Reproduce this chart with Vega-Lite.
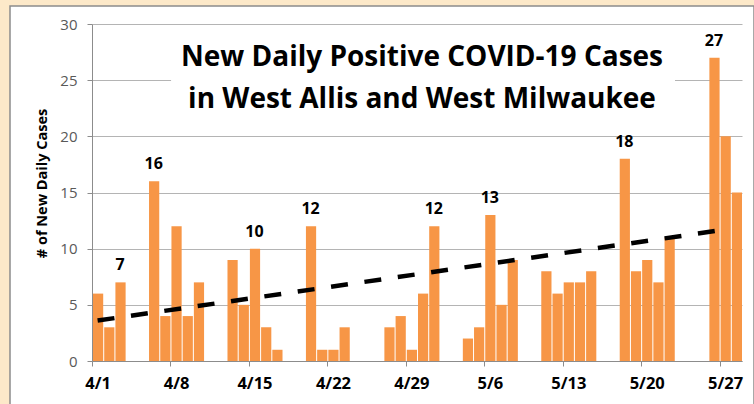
{
  "$schema": "https://vega.github.io/schema/vega-lite/v6.json",
  "autosize": {"type": "none"},
  "width": 744,
  "height": 400,
  "padding": {"left": 10, "top": 6, "right": 0, "bottom": 0},
  "background": "#FDE9C9",
  "config": {
    "view": {"fill": "white", "stroke": "#8C8C8C", "strokeWidth": 1.5},
    "font": "Open Sans"
  },
  "title": {
    "text": ["New Daily Positive COVID-19 Cases", "in West Allis and West Milwaukee"],
    "anchor": "middle",
    "frame": "group",
    "orient": "top",
    "baseline": "alphabetic",
    "offset": -130,
    "dx": 40,
    "lineHeight": 42,
    "font": "Open Sans",
    "fontSize": 28,
    "fontWeight": "bold",
    "color": "#000000"
  },
  "datasets": {
    "cases": [
      {"date": "2020-04-01", "cases": 6, "peak": false},
      {"date": "2020-04-02", "cases": 3, "peak": false},
      {"date": "2020-04-03", "cases": 7, "peak": true},
      {"date": "2020-04-06", "cases": 16, "peak": true},
      {"date": "2020-04-07", "cases": 4, "peak": false},
      {"date": "2020-04-08", "cases": 12, "peak": false},
      {"date": "2020-04-09", "cases": 4, "peak": false},
      {"date": "2020-04-10", "cases": 7, "peak": false},
      {"date": "2020-04-13", "cases": 9, "peak": false},
      {"date": "2020-04-14", "cases": 5, "peak": false},
      {"date": "2020-04-15", "cases": 10, "peak": true},
      {"date": "2020-04-16", "cases": 3, "peak": false},
      {"date": "2020-04-17", "cases": 1, "peak": false},
      {"date": "2020-04-20", "cases": 12, "peak": true},
      {"date": "2020-04-21", "cases": 1, "peak": false},
      {"date": "2020-04-22", "cases": 1, "peak": false},
      {"date": "2020-04-23", "cases": 3, "peak": false},
      {"date": "2020-04-27", "cases": 3, "peak": false},
      {"date": "2020-04-28", "cases": 4, "peak": false},
      {"date": "2020-04-29", "cases": 1, "peak": false},
      {"date": "2020-04-30", "cases": 6, "peak": false},
      {"date": "2020-05-01", "cases": 12, "peak": true},
      {"date": "2020-05-04", "cases": 2, "peak": false},
      {"date": "2020-05-05", "cases": 3, "peak": false},
      {"date": "2020-05-06", "cases": 13, "peak": true},
      {"date": "2020-05-07", "cases": 5, "peak": false},
      {"date": "2020-05-08", "cases": 9, "peak": false},
      {"date": "2020-05-11", "cases": 8, "peak": false},
      {"date": "2020-05-12", "cases": 6, "peak": false},
      {"date": "2020-05-13", "cases": 7, "peak": false},
      {"date": "2020-05-14", "cases": 7, "peak": false},
      {"date": "2020-05-15", "cases": 8, "peak": false},
      {"date": "2020-05-18", "cases": 18, "peak": true},
      {"date": "2020-05-19", "cases": 8, "peak": false},
      {"date": "2020-05-20", "cases": 9, "peak": false},
      {"date": "2020-05-21", "cases": 7, "peak": false},
      {"date": "2020-05-22", "cases": 11, "peak": false},
      {"date": "2020-05-26", "cases": 27, "peak": true},
      {"date": "2020-05-27", "cases": 20, "peak": false},
      {"date": "2020-05-28", "cases": 15, "peak": false}
    ],
    "trend": [
      {"date": "2020-04-01T12:00:00Z", "value": 3.6},
      {"date": "2020-05-27T12:00:00Z", "value": 11.7}
    ]
  },
  "layer": [
    {
      "data": {"name": "cases"},
      "mark": {"type": "bar", "color": "#F79646", "timeUnitBandSize": 0.8, "timeUnitBandPosition": 0.1},
      "encoding": {
        "x": {
          "field": "date",
          "timeUnit": "utcyearmonthdate",
          "type": "temporal",
          "scale": {
            "type": "utc",
            "domain": [{"year": 2020, "month": 4, "date": 1, "utc": true}, {"year": 2020, "month": 5, "date": 29, "utc": true}],
            "range": [82, 732],
            "nice": false
          },
          "axis": {
            "orient": "bottom",
            "offset": -45,
            "title": null,
            "grid": false,
            "values": [
              {"year": 2020, "month": 4, "date": 1, "utc": true},
              {"year": 2020, "month": 4, "date": 8, "utc": true},
              {"year": 2020, "month": 4, "date": 15, "utc": true},
              {"year": 2020, "month": 4, "date": 22, "utc": true},
              {"year": 2020, "month": 4, "date": 29, "utc": true},
              {"year": 2020, "month": 5, "date": 6, "utc": true},
              {"year": 2020, "month": 5, "date": 13, "utc": true},
              {"year": 2020, "month": 5, "date": 20, "utc": true},
              {"year": 2020, "month": 5, "date": 27, "utc": true}
            ],
            "format": "%-m/%-d",
            "labelOffset": 5.6,
            "labelFont": "Open Sans",
            "labelFontSize": 16.5,
            "labelFontWeight": "bold",
            "labelColor": "#000000",
            "labelPadding": 9,
            "tickSize": 5,
            "tickColor": "#8C8C8C",
            "domainColor": "#8C8C8C",
            "labelFlush": false,
            "labelOverlap": false
          }
        },
        "y": {
          "field": "cases",
          "type": "quantitative",
          "scale": {"domain": [0, 30], "range": [355, 18], "nice": false},
          "axis": {
            "orient": "left",
            "offset": -82,
            "values": [0, 5, 10, 15, 20, 25, 30],
            "title": "# of New Daily Cases",
            "titleFont": "Open Sans",
            "titleFontSize": 14.5,
            "titleFontWeight": "bold",
            "titleColor": "#000000",
            "titlePadding": 10,
            "titleY": 177,
            "labelFont": "Open Sans",
            "labelFontSize": 15,
            "labelColor": "#595959",
            "labelPadding": 10,
            "tickSize": 5,
            "tickColor": "#8C8C8C",
            "domainColor": "#8C8C8C",
            "grid": true,
            "gridColor": "#B4B4B4",
            "gridWidth": 1
          }
        }
      }
    },
    {
      "data": {"name": "cases"},
      "mark": {"type": "rect", "fill": "white"},
      "encoding": {
        "x": {"datum": {"year": 2020, "month": 4, "date": 8, "hours": 3, "utc": true}, "type": "temporal"},
        "x2": {"datum": {"year": 2020, "month": 5, "date": 23, "utc": true}},
        "y": {"datum": 20.8, "type": "quantitative"},
        "y2": {"datum": 29.4}
      }
    },
    {
      "data": {"name": "cases"},
      "transform": [{"filter": "datum.peak"}],
      "mark": {"type": "text", "font": "Open Sans", "fontSize": 16, "fontWeight": "bold", "color": "#000000", "baseline": "alphabetic", "dy": -12},
      "encoding": {
        "x": {"field": "date", "timeUnit": "utcyearmonthdate", "type": "temporal", "bandPosition": 0.5},
        "y": {"field": "cases", "type": "quantitative"},
        "text": {"field": "cases", "type": "quantitative"}
      }
    },
    {
      "data": {"name": "trend"},
      "mark": {"type": "line", "color": "#000000", "strokeWidth": 4.5, "strokeDash": [17, 16.7], "strokeCap": "butt"},
      "encoding": {
        "x": {"field": "date", "type": "temporal"},
        "y": {"field": "value", "type": "quantitative"}
      }
    }
  ]
}
